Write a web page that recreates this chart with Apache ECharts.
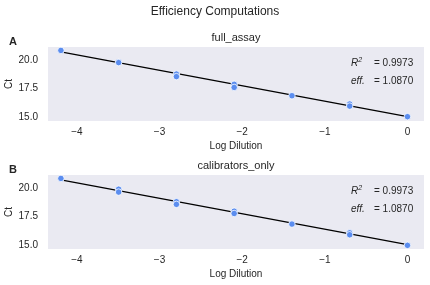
<!DOCTYPE html>
<html><head><meta charset="utf-8">
<script src="https://cdn.jsdelivr.net/npm/echarts@6/dist/echarts.min.js"></script>
<style>html,body{margin:0;padding:0;background:#fff}#c{width:430px;height:285px}</style>
</head><body><div id="c"></div>
<script>
const logDilution = [-4.194, -3.495, -3.495, -2.796, -2.796, -2.097, -2.097, -1.398, -0.699, -0.699, 0];
const ctFull = [20.85, 19.8, 19.78, 18.77, 18.55, 17.87, 17.6, 16.87, 16.14, 15.96, 15.03];
const ctCal = [20.85, 19.9, 19.65, 18.8, 18.57, 17.97, 17.77, 16.84, 16.07, 15.9, 14.97];
const fitX = [-4.194, 0];
const fitFull = [20.73, 15.03];
const fitCal = [20.73, 15.03];
const xTicks = [-4, -3, -2, -1, 0];
const yTicks = [15, 17.5, 20];
const panels = ['full_assay', 'calibrators_only'];
const panelLetters = ['A', 'B'];
const r2Text = '0.9973';
const effText = '1.0870';

const FONT = 'Liberation Sans, Arial, sans-serif';
const chart = echarts.init(document.getElementById('c'), null, {renderer: 'canvas'});
const tops = [47, 175];
const grids = tops.map(t => ({left: 48, right: 6, top: t, height: 74, backgroundColor: '#EAEAF2', show: true, borderWidth: 0, containLabel: false, outerBoundsMode: 'none'}));
const xAxes = tops.map((t, i) => ({
  type: 'value', gridIndex: i, min: -4.35, max: 0.2,
  name: 'Log Dilution', nameLocation: 'middle', nameGap: 20,
  nameTextStyle: {fontFamily: FONT, fontSize: 10, color: '#262626'},
  axisLine: {show: false}, axisTick: {show: false}, splitLine: {show: false},
  axisLabel: {customValues: xTicks, fontFamily: FONT, fontSize: 10, color: '#262626', margin: 6,
    formatter: v => String(v).replace('-', '\u2212')}
}));
const yAxes = tops.map((t, i) => ({
  type: 'value', gridIndex: i, min: 14.65, max: 21.15,
  axisLine: {show: false}, axisTick: {show: false}, splitLine: {show: false},
  axisLabel: {customValues: yTicks, fontFamily: FONT, fontSize: 10, color: '#262626', margin: 10,
    formatter: v => v.toFixed(1)}
}));
const ctSets = [ctFull, ctCal];
const fits = [fitFull, fitCal];
const series = [];
[0, 1].forEach(i => {
  series.push({
    type: 'line', xAxisIndex: i, yAxisIndex: i, data: fitX.map((x, k) => [x, fits[i][k]]),
    symbol: 'none', lineStyle: {color: '#000', width: 1.3}, z: 2, animation: false
  });
  series.push({
    type: 'scatter', xAxisIndex: i, yAxisIndex: i, data: logDilution.map((x, k) => [x, ctSets[i][k]]),
    symbolSize: 6.5, itemStyle: {color: '#5B8DEF', borderColor: '#fff', borderWidth: 0.8, opacity: 1}, z: 3, animation: false
  });
});
const graphic = [
  {type: 'text', left: 'center', top: 6, style: {text: 'Efficiency Computations', font: '12px ' + FONT, fill: '#262626'}},
];
const titleY = [32, 160];
const letterY = [36, 164];
const r2Y = [57, 185];
[0, 1].forEach(i => {
  graphic.push({type: 'text', x: 236, y: titleY[i], style: {text: panels[i], font: '11px ' + FONT, fill: '#262626', align: 'center'}});
  graphic.push({type: 'text', x: 9, y: letterY[i], style: {text: panelLetters[i], font: 'bold 11px ' + FONT, fill: '#262626'}});
  graphic.push({type: 'text', x: 9, y: tops[i] + 37, rotation: Math.PI / 2, style: {text: 'Ct', font: '10px ' + FONT, fill: '#262626', align: 'center', verticalAlign: 'middle'}});
  graphic.push({type: 'text', x: 351, y: r2Y[i], style: {
    rich: {it: {font: 'italic 10px ' + FONT, fill: '#262626'}, sup: {font: 'italic 7px ' + FONT, fill: '#262626', verticalAlign: 'top', padding: [0,0,5,0]}},
    text: '{it|R}{sup|2}'}});
  graphic.push({type: 'text', x: 374, y: r2Y[i] + 1, style: {text: '= ' + r2Text, font: '10px ' + FONT, fill: '#262626'}});
  graphic.push({type: 'text', x: 351, y: r2Y[i] + 19, style: {text: 'eff.', font: 'italic 10px ' + FONT, fill: '#262626'}});
  graphic.push({type: 'text', x: 374, y: r2Y[i] + 19, style: {text: '= ' + effText, font: '10px ' + FONT, fill: '#262626'}});
});
chart.setOption({animation: false, grid: grids, xAxis: xAxes, yAxis: yAxes, series, graphic});
</script></body></html>
